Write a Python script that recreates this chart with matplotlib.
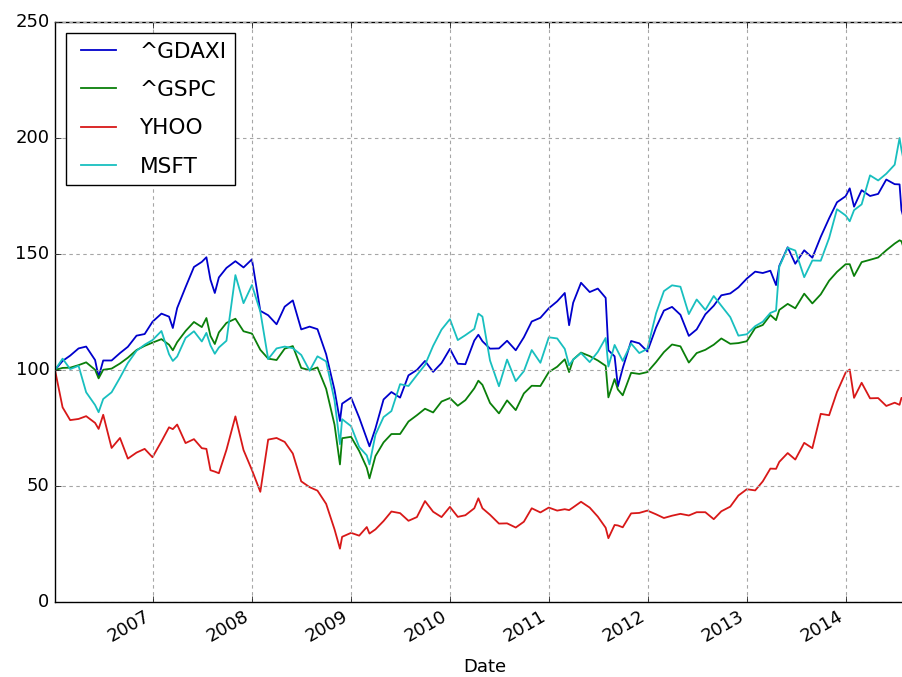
import numpy as np
import pandas as pd
import matplotlib
matplotlib.use("Agg")
import matplotlib.pyplot as plt
import matplotlib.dates as mdates

# Normalised prices (first day = 100)
dates = [
    "2006-01-03", "2006-01-31", "2006-02-28", "2006-03-31", "2006-04-28", "2006-05-31", "2006-06-13",
    "2006-06-30", "2006-07-31", "2006-08-31", "2006-09-29", "2006-10-31", "2006-11-30", "2006-12-29",
    "2007-01-31", "2007-02-28", "2007-03-14", "2007-03-30", "2007-04-30", "2007-05-31", "2007-06-29",
    "2007-07-16", "2007-07-31", "2007-08-16", "2007-08-31", "2007-09-28", "2007-10-31", "2007-11-30",
    "2007-12-31",
    "2008-01-31", "2008-02-29", "2008-03-31", "2008-04-30", "2008-05-30", "2008-06-30", "2008-07-31",
    "2008-08-29", "2008-09-30", "2008-10-31", "2008-11-20", "2008-11-28", "2008-12-31",
    "2009-01-30", "2009-02-27", "2009-03-09", "2009-03-31", "2009-04-30", "2009-05-29", "2009-06-30",
    "2009-07-31", "2009-08-31", "2009-09-30", "2009-10-30", "2009-11-30", "2009-12-31",
    "2010-01-29", "2010-02-26", "2010-03-31", "2010-04-15", "2010-04-30", "2010-05-28", "2010-06-30",
    "2010-07-30", "2010-08-31", "2010-09-30", "2010-10-29", "2010-11-30", "2010-12-31",
    "2011-01-31", "2011-02-28", "2011-03-16", "2011-03-31", "2011-04-29", "2011-05-31", "2011-06-30",
    "2011-07-29", "2011-08-08", "2011-08-31", "2011-09-12", "2011-09-30", "2011-10-31", "2011-11-30",
    "2011-12-30",
    "2012-01-31", "2012-02-29", "2012-03-30", "2012-04-30", "2012-05-31", "2012-06-29", "2012-07-31",
    "2012-08-31", "2012-09-28", "2012-10-31", "2012-11-30", "2012-12-31",
    "2013-01-31", "2013-02-28", "2013-03-28", "2013-04-18", "2013-04-30", "2013-05-31", "2013-06-28",
    "2013-07-31", "2013-08-30", "2013-09-30", "2013-10-31", "2013-11-29", "2013-12-31",
    "2014-01-15", "2014-01-31", "2014-02-28", "2014-03-31", "2014-04-30", "2014-05-30", "2014-06-30",
    "2014-07-18", "2014-07-25", "2014-08-01",
]

gdaxi = [
    100, 103.9, 106.2, 109.3, 110.1, 104.3, 97.0, 104.1, 104.1, 107.3, 110.0, 114.8, 115.5, 120.8,
    124.3, 123.0, 118.1, 126.7, 135.7, 144.4, 146.6, 148.6, 138.9, 133.2, 139.9, 144.0, 146.9, 144.2, 147.7,
    125.5, 123.6, 119.7, 127.3, 130.0, 117.5, 118.7, 117.6, 106.8, 91.4, 78.0, 85.5, 88.1,
    79.5, 70.4, 67.1, 74.8, 87.3, 90.5, 88.1, 97.7, 100.0, 103.9, 99.2, 103.0, 109.1,
    102.7, 102.5, 112.7, 115.2, 112.4, 109.2, 109.3, 112.6, 108.5, 114.1, 120.9, 122.5, 126.6,
    129.6, 133.2, 119.3, 129.0, 137.6, 133.6, 135.1, 131.1, 108.5, 105.9, 92.9, 100.8, 112.5, 111.5, 108.0,
    118.3, 125.6, 127.2, 123.8, 114.7, 117.5, 124.0, 127.7, 132.2, 133.0, 135.6, 139.4,
    142.4, 141.8, 142.8, 136.6, 144.9, 152.9, 145.8, 151.6, 148.4, 157.4, 165.4, 172.3, 174.9,
    178.3, 170.4, 177.5, 175.0, 175.9, 182.1, 180.1, 180.0, 169.0, 166.0,
]

gspc = [
    100, 100.9, 101.0, 102.1, 103.3, 100.1, 96.4, 100.1, 100.6, 102.8, 105.3, 108.6, 110.4, 111.8,
    113.3, 110.9, 108.5, 112.0, 116.8, 120.7, 118.5, 122.4, 114.7, 111.2, 116.2, 120.3, 122.1, 116.7, 115.7,
    108.7, 104.9, 104.3, 109.2, 110.3, 100.9, 99.9, 101.1, 91.9, 76.4, 59.3, 70.6, 71.2,
    65.1, 57.9, 53.3, 62.9, 68.8, 72.4, 72.4, 77.8, 80.5, 83.3, 81.7, 86.4, 87.9,
    84.6, 87.0, 92.1, 95.4, 93.6, 85.8, 81.3, 86.9, 82.7, 89.9, 93.2, 93.1, 99.1,
    101.4, 104.6, 99.1, 104.5, 107.5, 106.0, 104.1, 101.8, 88.2, 96.1, 91.6, 89.1, 98.8, 98.3, 99.1,
    103.4, 107.7, 111.0, 110.2, 103.2, 107.3, 108.7, 110.9, 113.6, 111.3, 111.6, 112.4,
    118.1, 119.4, 123.7, 121.5, 125.9, 128.5, 126.6, 132.9, 128.7, 132.6, 138.5, 142.3, 145.6,
    145.6, 140.5, 146.5, 147.5, 148.5, 151.6, 154.5, 155.9, 155.5, 153.0,
]

yhoo = [
    100, 83.9, 78.4, 78.9, 80.1, 77.2, 74.6, 80.7, 66.4, 70.7, 61.8, 64.4, 66.0, 62.4,
    69.2, 75.3, 74.5, 76.5, 68.5, 70.2, 66.3, 66.0, 56.8, 56.2, 55.5, 65.6, 80.0, 65.5, 56.9,
    47.5, 70.0, 70.7, 69.0, 64.0, 52.0, 49.5, 48.0, 42.3, 31.3, 23.0, 28.1, 29.8,
    28.6, 32.3, 29.5, 31.3, 34.9, 39.0, 38.3, 35.0, 36.6, 43.5, 38.9, 36.6, 41.0,
    36.7, 37.4, 40.4, 44.7, 40.4, 37.6, 33.8, 33.9, 32.1, 34.6, 40.4, 38.6, 40.7,
    39.4, 40.0, 39.6, 40.8, 43.2, 40.7, 36.8, 32.0, 27.5, 33.2, 33.0, 32.2, 38.2, 38.4, 39.4,
    37.8, 36.2, 37.2, 38.0, 37.3, 38.7, 38.7, 35.7, 39.1, 41.1, 45.9, 48.6,
    48.1, 52.0, 57.5, 57.4, 60.4, 64.2, 61.4, 68.6, 66.3, 81.1, 80.5, 90.5, 98.9,
    100.2, 88.0, 94.5, 87.8, 87.9, 84.5, 85.9, 85.0, 88.0, 87.5,
]

msft = [
    100, 104.9, 100.4, 101.8, 90.4, 84.9, 81.8, 87.5, 90.4, 96.7, 103.0, 108.3, 110.9, 112.9,
    116.8, 106.8, 103.9, 105.8, 113.8, 116.7, 112.3, 116.0, 110.6, 107.0, 109.7, 112.6, 140.9, 128.8, 136.6,
    125.2, 104.7, 109.3, 110.1, 109.4, 106.5, 99.7, 105.9, 103.7, 86.9, 68.0, 78.8, 75.8,
    66.8, 63.2, 59.3, 72.1, 79.7, 82.3, 93.9, 93.1, 97.8, 102.2, 110.4, 117.4, 121.9,
    112.9, 115.0, 117.7, 124.3, 123.0, 104.1, 93.0, 104.5, 95.2, 99.5, 108.6, 103.1, 114.1,
    113.6, 109.1, 102.0, 104.5, 107.3, 103.4, 107.8, 113.8, 101.5, 110.8, 108.0, 103.9, 111.4, 107.3, 109.1,
    124.4, 134.0, 136.5, 135.9, 124.1, 130.4, 125.9, 131.9, 127.7, 122.8, 114.8, 115.4,
    118.9, 120.8, 124.6, 125.6, 144.5, 152.7, 151.5, 140.0, 147.2, 147.1, 156.9, 169.3, 166.6,
    164.1, 168.9, 171.4, 183.9, 181.7, 184.6, 188.5, 200.0, 195.0, 191.0,
]

labels = ["^GDAXI", "^GSPC", "YHOO", "MSFT"]
colors = ["#0000cc", "#0a7f0a", "#d81818", "#18bfbf"]

dates = pd.to_datetime(dates)
series = [gdaxi, gspc, yhoo, msft]

plt.style.use("classic")
fig = plt.figure(figsize=(9.02, 6.77), dpi=100, facecolor="white")
# the right edge of the axes runs past the figure, as in the cropped original
ax = fig.add_axes([55 / 902, 75 / 677, 860 / 902, 580 / 677])

for vals, lab, col in zip(series, labels, colors):
    ax.plot(dates, vals, color=col, lw=1.3, label=lab)

ax.set_xlim(pd.Timestamp("2006-01-03"), pd.Timestamp("2014-09-13"))
ax.set_ylim(0, 250)
ax.set_yticks(np.arange(0, 251, 50))
ax.xaxis.set_major_locator(mdates.YearLocator())
ax.xaxis.set_major_formatter(mdates.DateFormatter("%Y"))
ax.xaxis.set_minor_locator(plt.NullLocator())
for lbl in ax.get_xticklabels():
    lbl.set_rotation(30)
    lbl.set_ha("right")
ax.tick_params(labelsize=13)
ax.grid(True, color="0.65", linestyle=(0, (2.5, 2.5)), lw=0.8)
ax.set_xlabel("Date", fontsize=13, labelpad=9)

ax.legend(loc="upper left", fontsize=15.6, labelspacing=0.85, handlelength=2.2,
          borderaxespad=0.5)

fig.savefig("out.png", dpi=100, facecolor="white")
